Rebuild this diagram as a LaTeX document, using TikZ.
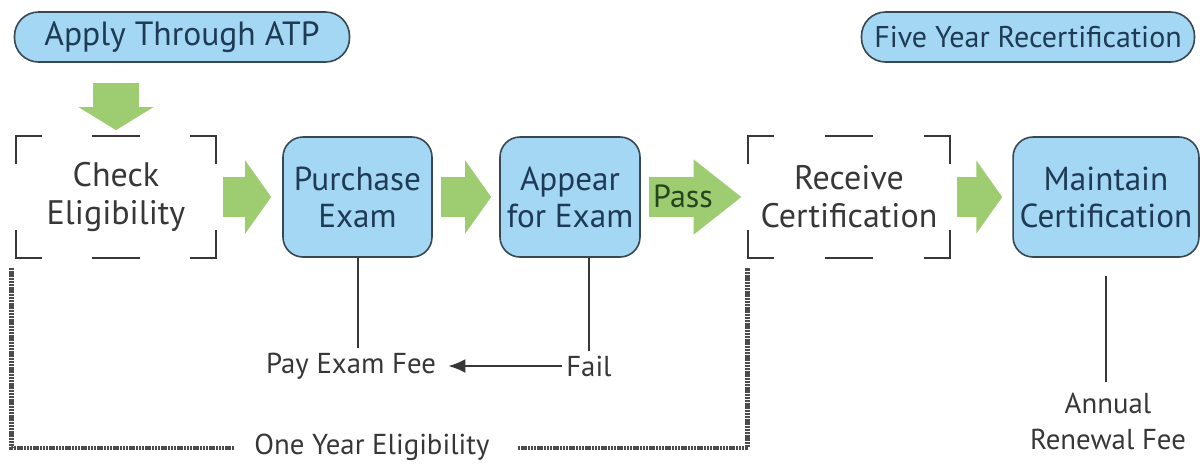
\documentclass[tikz,border=0pt]{standalone}
\usepackage{fontspec}
\setmainfont{PT Sans}
\usetikzlibrary{arrows.meta,calc}

\definecolor{boxblue}{RGB}{163,215,243}
\definecolor{boxedge}{RGB}{55,72,82}
\definecolor{navytext}{RGB}{30,58,85}
\definecolor{greytext}{RGB}{55,55,55}
\definecolor{arrowgreen}{RGB}{158,204,112}
\definecolor{passgreen}{RGB}{38,68,30}

\tikzset{
  pill/.style={draw=boxedge, fill=boxblue, line width=0.8pt, rounded corners=12pt,
    minimum height=25pt, text=navytext, font=\fontsize{16.8}{19}\selectfont},
  stepbox/.style={draw=boxedge, fill=boxblue, line width=0.8pt, rounded corners=10pt,
    minimum height=60pt, align=center, text=navytext, font=\fontsize{16.6}{18.5}\selectfont},
  bracketbox/.style={minimum height=60.5pt, align=center, text=greytext,
    font=\fontsize{17}{19}\selectfont},
  bracket/.style={line width=1pt, draw=greytext},
  bigarrow/.style={draw=arrowgreen, line width=20pt, -{Triangle[length=13pt,width=36pt]}},
  note/.style={text=greytext, inner sep=2pt, align=center, font=\fontsize{14.4}{18}\selectfont},
  eligline/.style={draw=black!70, line width=2.4pt, dash pattern=on 1.2pt off 0.4pt},
}

% corner marks round a bracket box
\newcommand{\cornermarks}[1]{%
  \foreach \c/\dx/\dy in {north west/1/-1, north east/-1/-1, south west/1/1, south east/-1/1}
    \draw[bracket] ([xshift=\dx*13pt]#1.\c) -- (#1.\c) -- ([yshift=\dy*14pt]#1.\c);
  \draw[bracket] ([xshift=-12pt]#1.north) -- ([xshift=12pt]#1.north);
  \draw[bracket] ([xshift=-12pt]#1.south) -- ([xshift=12pt]#1.south);
}

\begin{document}
\begin{tikzpicture}[x=0.5pt,y=-0.5pt]
\useasboundingbox (0,0) rectangle (1200,463);

% top pills
\node[pill, minimum width=167.5pt] (apply) at (182,37) {Apply Through ATP};
\node[pill, minimum width=166.5pt, font=\fontsize{15}{17}\selectfont] (recert) at (1028,37) {Five Year Recertification};

% main row
\node[bracketbox, minimum width=100pt] (check) at (116,197) {Check\\Eligibility};
\node[stepbox, minimum width=74.5pt] (purchase) at (357.5,197) {Purchase\\Exam};
\node[stepbox, minimum width=70pt] (appear) at (570,197) {Appear\\for Exam};
\node[bracketbox, minimum width=101pt] (receive) at (849,197) {Receive\\Certification};
\node[stepbox, minimum width=91pt] (maintain) at (1106,197) {Maintain\\Certification};
\cornermarks{check}
\cornermarks{receive}

% green arrows
\draw[bigarrow, line width=23pt, -{Triangle[length=11.5pt,width=37pt]}, shorten <=10pt, shorten >=3pt,
  xshift=-1.5pt] (check.north |- apply.south) -- (check.north);
\draw[bigarrow, shorten <=3.5pt, shorten >=5.5pt] (check.east) -- (check.east -| purchase.west);
\draw[bigarrow, shorten <=4pt, shorten >=4pt] (purchase.east) -- (appear.west);
\draw[bigarrow, -{Triangle[length=24pt,width=36pt]}, shorten <=4pt, shorten >=3pt]
  (appear.east) -- (appear.east -| receive.west);
\draw[bigarrow, shorten <=3.5pt, shorten >=5pt] (receive.east) -- (receive.east -| maintain.west);
\node[text=passgreen, font=\fontsize{16}{18}\selectfont] (pass) at (683,196) {Pass};

% fees
\node[note] (payfee) at (351,366) {Pay Exam Fee};
\node[note] (fail) at (589,366) {Fail};
\node[note] (renewal) at (1108,421) {Annual\\Renewal Fee};
\draw[line width=1pt, greytext] (purchase.south) -- (purchase.south |- payfee.north);
\draw[line width=1pt, greytext] (fail.north |- appear.south) -- (fail.north);
\draw[line width=1pt, greytext, shorten <=9pt, shorten >=3pt] (maintain.south) -- (maintain.south |- renewal.north);
\draw[line width=1pt, greytext, -{Latex[length=8.5pt,width=7pt]}, shorten >=4pt] (fail.west) -- (payfee.east);

% one year eligibility
\node[note] (oneyear) at (372,447) {One Year Eligibility};
\draw[eligline] ([xshift=-8pt]oneyear.west |- 0,448) -| ([xshift=-2pt,yshift=-5pt]check.south west);
\draw[eligline] ([xshift=12pt]oneyear.east |- 0,448) -| ([yshift=-5pt]receive.south west);
\end{tikzpicture}
\end{document}
